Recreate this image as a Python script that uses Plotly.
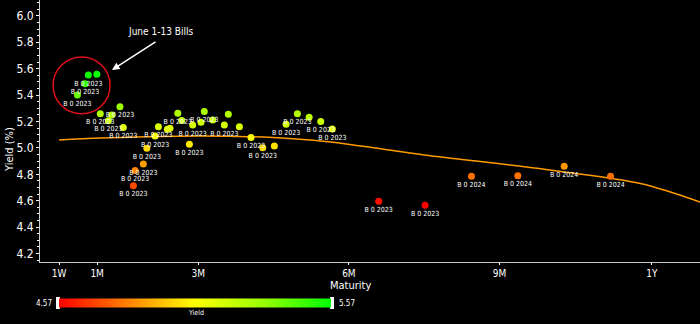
import plotly.graph_objects as go

# ---- data ----
days = [24.7, 29.8, 22.7, 18.1, 43.8, 31.9, 38.8, 36.8, 45.8,
        78.7, 81.1, 67.0, 72.4, 74.0, 65.0, 60.0, 57.9, 52.9, 51.9,
        94.7, 109.2, 87.7, 92.7, 99.8, 106.8, 115.9, 122.9, 85.7, 130.0, 137.0,
        150.9, 158.0, 165.0, 144.1, 172.0,
        200, 228, 256, 284, 312, 340]
yields = [5.553, 5.558, 5.485, 5.40, 5.311, 5.258, 5.25, 5.205, 5.154,
          5.263, 5.207, 5.161, 5.142, 5.149, 5.091, 4.998, 4.879, 4.828, 4.714,
          5.275, 5.255, 5.174, 5.195, 5.212, 5.174, 5.161, 5.078, 5.028, 5.002, 5.015,
          5.258, 5.233, 5.199, 5.18, 5.144,
          4.596, 4.566, 4.786, 4.79, 4.861, 4.786]
L = "B 0 2023"
L4 = "B 0 2024"
labels = [L, "", L, L, L, L, "", L, L,
          L, "", L, "", "", L, L, L, L, L,
          L, "", L, "", "", L, "", L, L, L, "",
          L, "", L, L, L,
          L, L, L4, L4, L4, L4]

curve_days = [7, 32, 62, 92, 122, 146, 171, 203, 231, 273, 311, 358, 394]
curve_yields = [5.06, 5.075, 5.085, 5.09, 5.085, 5.072, 5.045, 4.99, 4.94, 4.88, 4.82, 4.73, 4.59]

tick_vals = [7, 30, 91, 182, 273, 365]
tick_text = ["1W", "1M", "3M", "6M", "9M", "1Y"]
cmin, cmax = 4.57, 5.57

FONT = "Liberation Sans Narrow, DejaVu Sans Condensed, Arial Narrow, sans-serif"

# layout geometry (pixels)
W, H = 700, 324
ML, MR, MT, MB = 40, 0, 0, 62
PW, PH = W - ML - MR, H - MT - MB

def px(x):
    return (x - ML) / PW

def py(y):
    return (H - MB - y) / PH

colorscale = [[0, "#ff0000"], [0.25, "#ff8000"], [0.5, "#ffff00"],
              [0.75, "#99ff00"], [1, "#00ff00"]]

fig = go.Figure()
fig.add_trace(go.Scatter(
    x=curve_days, y=curve_yields, mode="lines",
    line=dict(color="#ff9a00", width=1.5, shape="spline", smoothing=1.0),
    hoverinfo="skip", showlegend=False))
fig.add_trace(go.Scatter(
    x=days, y=yields, mode="markers+text", text=labels,
    textposition="bottom center",
    textfont=dict(color="white", size=7, family=FONT),
    marker=dict(size=7, color=yields, colorscale=colorscale, cmin=cmin, cmax=cmax,
                line=dict(width=0),
                colorbar=dict(orientation="h", x=px(59), xanchor="left",
                              y=py(303), yanchor="middle", lenmode="pixels", len=272,
                              thickness=9, xpad=0, ypad=0, outlinewidth=0,
                              showticklabels=False, ticks="")),
    showlegend=False))

shapes = [
    dict(type="circle", xref="x", yref="y", x0=3.4, x1=37.8, y0=5.258, y1=5.689,
         line=dict(color="#e0101a", width=1.5)),
    dict(type="rect", xref="paper", yref="paper", x0=px(56), x1=px(60), y0=py(309), y1=py(297),
         fillcolor="white", line=dict(width=0)),
    dict(type="rect", xref="paper", yref="paper", x0=px(330), x1=px(334), y0=py(309), y1=py(297),
         fillcolor="white", line=dict(width=0)),
]

def ann(text, x, y, size, xanchor="center", **kw):
    return dict(text=text, x=px(x), y=py(y), xref="paper", yref="paper",
                xanchor=xanchor, yanchor="middle", showarrow=False,
                font=dict(color="white", size=size, family=FONT), **kw)

annotations = [
    ann("June 1-13 Bills", 160, 31, 10),
    dict(text="", x=px(112), y=py(70), xref="paper", yref="paper", showarrow=True,
         ax=45, ay=-29, arrowhead=2, arrowsize=1, arrowwidth=1.5, arrowcolor="white"),
    ann("Yield (%)", 9, 150, 11, textangle=-90),
    ann("Maturity", 350, 285, 11),
    ann("4.57", 54, 303, 8, xanchor="right"),
    ann("5.57", 337, 303, 8, xanchor="left"),
    ann("Yield", 196, 313, 7),
]

fig.update_layout(
    width=W, height=H, margin=dict(l=ML, r=MR, t=MT, b=MB),
    paper_bgcolor="black", plot_bgcolor="black",
    font=dict(color="white", family=FONT),
    shapes=shapes, annotations=annotations,
    xaxis=dict(range=[-4.5, 394], tickvals=tick_vals, ticktext=tick_text,
               showgrid=False, zeroline=False, showline=True, linecolor="#cccccc",
               linewidth=1, ticks="outside", ticklen=2, tickcolor="white",
               tickfont=dict(size=10, color="white", family=FONT)),
    yaxis=dict(range=[4.136, 6.12], dtick=0.2, tick0=4.2, tickformat=".1f",
               showgrid=False, zeroline=False, showline=True, linecolor="#cccccc",
               linewidth=1, ticks="outside", ticklen=3, tickcolor="white",
               minor=dict(dtick=0.05, ticks="outside", ticklen=2, tickcolor="white"),
               tickfont=dict(size=12, color="white", family=FONT)),
)

fig.write_html("out.html")
